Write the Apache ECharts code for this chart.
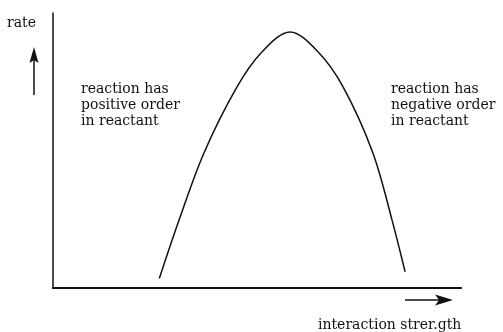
<!DOCTYPE html>
<html>
<head>
<meta charset="utf-8">
<script src="https://cdn.jsdelivr.net/npm/echarts@6/dist/echarts.min.js"></script>
<style>
html,body{margin:0;padding:0;background:#fff;}
#chart{width:503px;height:332px;}
</style>
</head>
<body>
<div id="chart"></div>
<script>
// interaction strength (% of axis length) and rate (% of axis height)
const strength = [26.05, 30.9, 37.0, 45.1, 51.2, 58.1, 65.0, 71.1, 78.4, 83.1, 86.3];
const rate     = [3.5, 24.7, 49.1, 73.1, 85.8, 93.1, 85.8, 73.1, 49.1, 24.7, 5.9];

const yLabel = 'rate';
const xLabel = 'interaction strer.gth';
const leftNote = ['reaction has', 'positive order', 'in reactant'];
const rightNote = ['reaction has', 'negative order', 'in reactant'];

const points = strength.map((x, i) => [x, rate[i]]);
const font = '"DejaVu Serif", serif';
const textStyle = (t) => ({ text: t, font: '14px ' + font, fill: '#111', lineHeight: 16, verticalAlign: 'top' });

// smooth (Catmull-Rom) segment between point i and i+1, positioned through the axes
function renderSegment(params, api) {
  const i = params.dataIndex;
  const n = points.length;
  if (i >= n - 1) return null;
  const c = (k) => api.coord(points[Math.max(0, Math.min(n - 1, k))]);
  const p0 = c(i - 1), p1 = c(i), p2 = c(i + 1), p3 = c(i + 2);
  return {
    type: 'bezierCurve',
    shape: {
      x1: p1[0], y1: p1[1],
      cpx1: p1[0] + (p2[0] - p0[0]) / 6, cpy1: p1[1] + (p2[1] - p0[1]) / 6,
      cpx2: p2[0] - (p3[0] - p1[0]) / 6, cpy2: p2[1] - (p3[1] - p1[1]) / 6,
      x2: p2[0], y2: p2[1]
    },
    style: { stroke: '#111', lineWidth: 1.5, fill: null }
  };
}

const chart = echarts.init(document.getElementById('chart'), null, { renderer: 'canvas' });
chart.setOption({
  animation: false,
  backgroundColor: '#ffffff',
  grid: { left: 53, right: 42, top: 13, bottom: 44 },
  xAxis: {
    type: 'value', min: 0, max: 100,
    axisLine: { show: true, lineStyle: { color: '#111', width: 2 } },
    axisTick: { show: false }, axisLabel: { show: false }, splitLine: { show: false }
  },
  yAxis: {
    type: 'value', min: 0, max: 100,
    axisLine: { show: true, lineStyle: { color: '#111', width: 1.5 } },
    axisTick: { show: false }, axisLabel: { show: false }, splitLine: { show: false }
  },
  series: [{
    type: 'custom',
    data: points,
    encode: { x: 0, y: 1 },
    clip: false,
    renderItem: renderSegment
  }],
  graphic: [
    { type: 'text', left: 7, top: 15, style: textStyle(yLabel) },
    { type: 'text', left: 318, top: 317, style: textStyle(xLabel) },
    { type: 'text', left: 81, top: 81, style: textStyle(leftNote.join('\n')) },
    { type: 'text', left: 391, top: 81, style: textStyle(rightNote.join('\n')) },
    { type: 'line', shape: { x1: 34, y1: 95, x2: 34, y2: 58 }, style: { stroke: '#111', lineWidth: 1.5 } },
    { type: 'polygon', shape: { points: [[34, 47], [38.5, 63], [34, 60], [29.5, 63]] }, style: { fill: '#111' } },
    { type: 'line', shape: { x1: 405, y1: 300, x2: 442, y2: 300 }, style: { stroke: '#111', lineWidth: 1.5 } },
    { type: 'polygon', shape: { points: [[453, 300], [435, 294.5], [439, 300], [435, 305.5]] }, style: { fill: '#111' } }
  ]
});
</script>
</body>
</html>
